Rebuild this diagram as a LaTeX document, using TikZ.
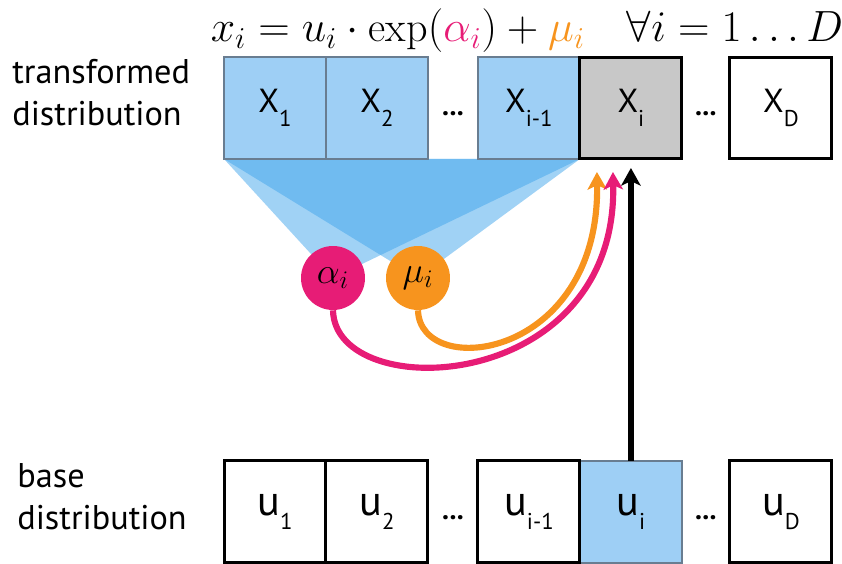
\documentclass[tikz,border=0pt]{standalone}
\usepackage{fontspec}
\newfontfamily\labelfont{PT Sans}
\definecolor{CellBlue}{RGB}{158,207,245}
\definecolor{CellEdge}{RGB}{105,125,145}
\definecolor{CellGray}{RGB}{200,200,200}
\definecolor{FanBlue}{RGB}{65,165,235}
\definecolor{AlphaPink}{RGB}{231,28,118}
\definecolor{MuOrange}{RGB}{247,148,30}
\usepackage{tikz}
\usetikzlibrary{arrows.meta, positioning, calc, backgrounds}
\usepackage{amsmath, amssymb}
\usepackage{xcolor}
\newcommand{\lowidx}[1]{\raisebox{-8pt}{\fontsize{13}{13}\selectfont #1}}

\begin{document}
\begin{tikzpicture}[x=0.02cm, y=-0.02cm,
    cell/.style={draw=black, line width=1.7pt, outer sep=0pt, inner sep=0pt,
      minimum width=2.04cm, minimum height=2.04cm, fill=white},
    bluecell/.style={cell, fill=CellBlue, draw=CellEdge, line width=1.1pt},
    xfont/.style={font=\labelfont\fontsize{19}{19}\selectfont},
    ufont/.style={font=\labelfont\fontsize{24}{24}\selectfont},
    dots/.style={font=\labelfont\bfseries\fontsize{16}{16}\selectfont, inner sep=0pt},
    sidelabel/.style={font=\labelfont\fontsize{19.5}{24}\selectfont, align=left, anchor=west, inner sep=0pt},
    param/.style={circle, minimum size=1.28cm, inner sep=0pt, font=\fontsize{22}{22}\selectfont},
    flow/.style={line width=3.5pt, -{Stealth[length=10pt, width=11pt, inset=2.5pt]}}]
  \useasboundingbox (0,0) rectangle (842,564);

  % transformed row
  \node[bluecell, xfont] (x1) at (275,108) {X\lowidx{1}};
  \node[bluecell, xfont, right=0pt of x1] (x2) {X\lowidx{2}};
  \node[bluecell, xfont, right=1cm of x2] (xim1) {X\lowidx{i-1}};
  \node[cell, xfont, fill=CellGray, right=0pt of xim1] (xi) {X\lowidx{i}};
  \node[cell, xfont, right=0.96cm of xi] (xD) {X\lowidx{D}};
  \node[dots, yshift=-3pt] (xdots1) at ($(x2.east)!0.5!(xim1.west)$) {...};
  \node[dots, yshift=-3pt] (xdots2) at ($(xi.east)!0.5!(xD.west)$) {...};

  % base row
  \node[cell, ufont, below=6.04cm of x1] (u1) {u\lowidx{1}};
  \node[cell, ufont, right=0pt of u1] (u2) {u\lowidx{2}};
  \node[bluecell, ufont, below=6.04cm of xi] (ui) {u\lowidx{i}};
  \node[cell, ufont, left=0pt of ui] (uim1) {u\lowidx{i-1}};
  \node[cell, ufont, below=6.04cm of xD] (uD) {u\lowidx{D}};
  \node[dots, yshift=-3pt] (udots1) at ($(u2.east)!0.5!(uim1.west)$) {...};
  \node[dots, yshift=-3pt] (udots2) at ($(ui.east)!0.5!(uD.west)$) {...};

  \node[sidelabel] (tlabel) at (12,93) {transformed\\distribution};
  \node[sidelabel] (blabel) at (17,497) {base\\distribution};

  \node[font=\fontsize{24}{28}\selectfont] (formula) at (527,31)
    {$x_i = u_i \cdot \exp({\color{AlphaPink}\alpha_i}) + {\color{MuOrange}\mu_i} \quad \forall i = 1 \ldots D$};

  % shift and scale
  \node[param, fill=AlphaPink] (alpha) at (333,278) {$\alpha_i$};
  \node[param, fill=MuOrange] (mu) at (418,278) {$\mu_i$};

  \begin{scope}[on background layer]
    \fill[FanBlue, opacity=0.5] (x1.south west) -- (xim1.south east) -- (alpha.center) -- cycle;
    \fill[FanBlue, opacity=0.5] (x1.south west) -- (xim1.south east) -- (mu.center) -- cycle;
  \end{scope}

  \coordinate (muend) at ($(xi.south)+(-34,13)$);
  \coordinate (alend) at ($(xi.south)+(-18,13)$);
  \coordinate (xiend) at ($(xi.south)+(0,9)$);
  \draw[flow, MuOrange] (mu.south) .. controls +(2,70) and +(3,188) .. (muend);
  \draw[flow, AlphaPink] (alpha.south) .. controls +(2,95) and +(5,223) .. (alend);
  \draw[flow, black] (ui.north) -- (xiend);
\end{tikzpicture}
\end{document}
